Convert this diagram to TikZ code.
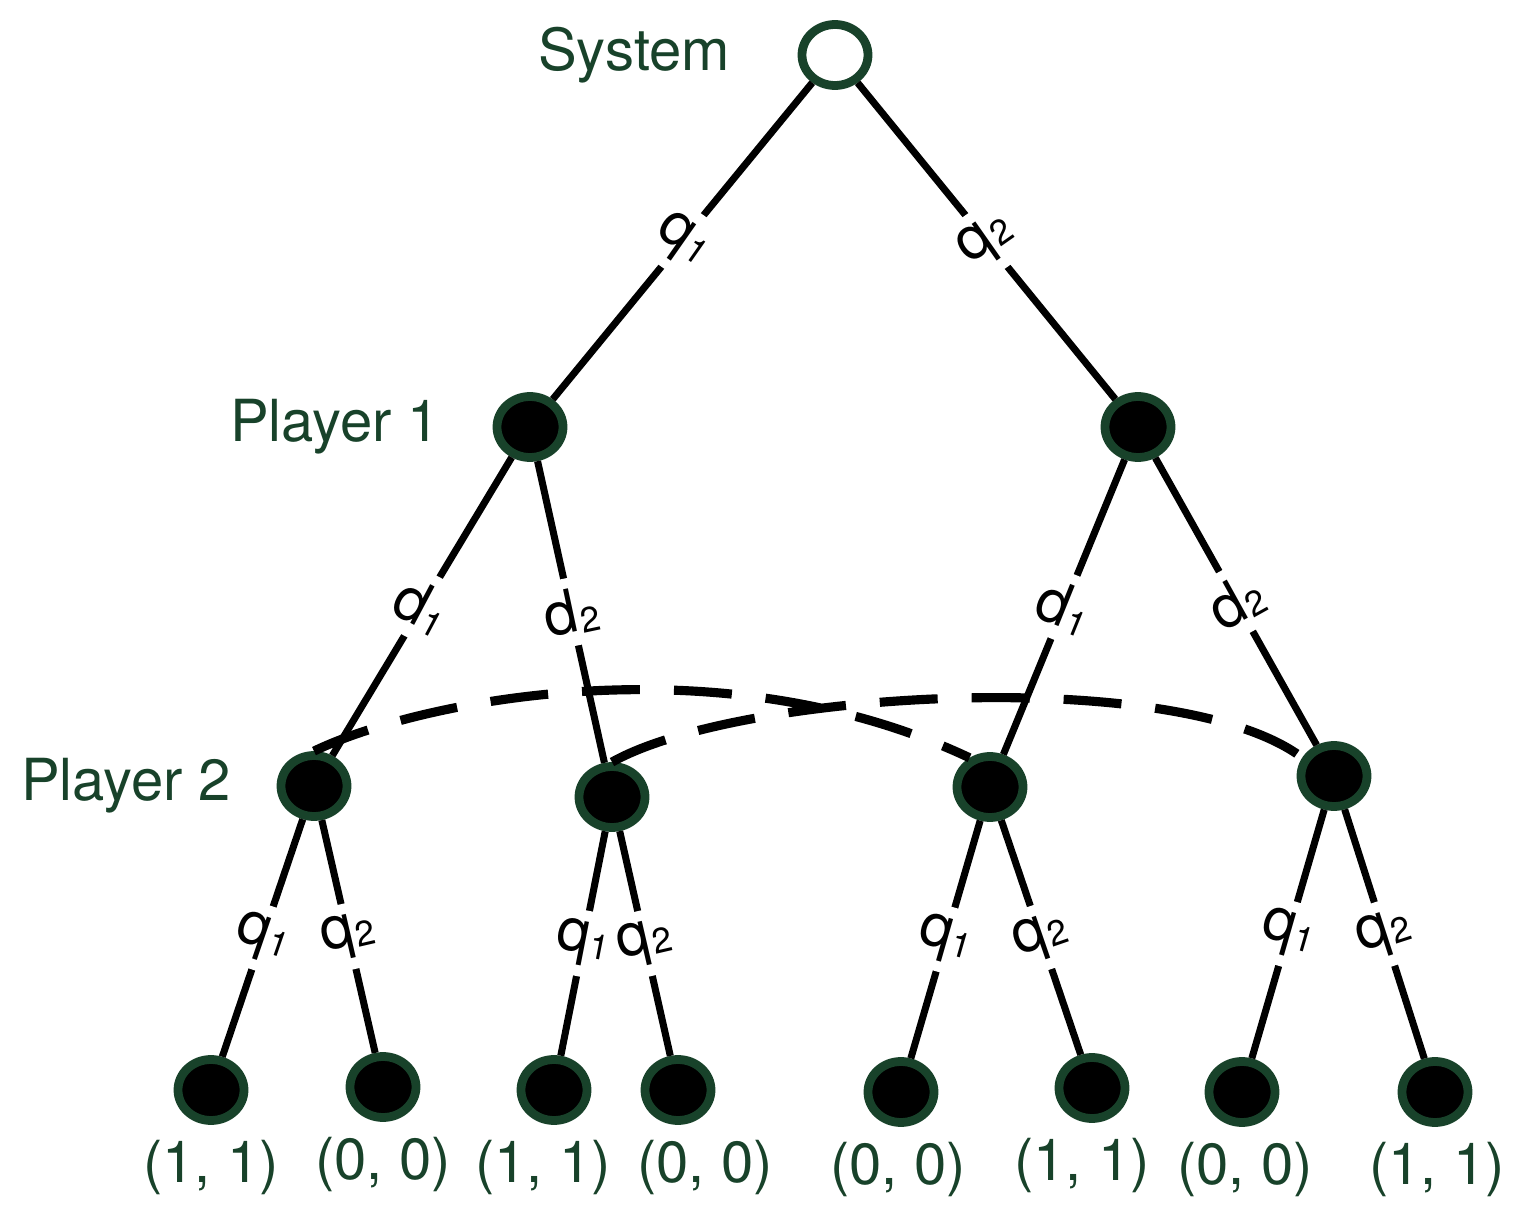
\documentclass[tikz,border=0pt]{standalone}
\usepackage{fontspec}
\setmainfont{TeX Gyre Heros}
\usetikzlibrary{positioning, shapes}
\definecolor{treegreen}{RGB}{24,66,42}
\newcommand{\ix}[1]{\kern0.3pt\raisebox{-1pt}{\fontsize{10}{10}\selectfont #1}}
\tikzset{state node/.style={ellipse,draw=treegreen,line width=2.5pt,fill=black,minimum width=0.66cm,minimum height=0.61cm,inner sep=0pt},
         role/.style={text=treegreen,inner sep=2pt,font=\fontsize{16.5}{19}\selectfont},
         move/.style={fill=white,inner sep=3pt,font=\fontsize{17}{20}\selectfont},}

\begin{document}
\begin{tikzpicture}
       \useasboundingbox (0,0) rectangle (15.26,-12.27);
       \node[state node, fill=white] (sys) at (8.35,-0.55) {};
       \node[state node] (p1a) at (5.30,-4.27) {};
       \node[state node] (p1b) at (11.38,-4.27) {};

       \node[state node] (p2a) at (3.14,-7.86) {};
       \node[state node] (p2b) at (6.12,-7.97) {};
       \node[state node] (p2c) at (9.90,-7.87) {};
       \node[state node] (p2d) at (13.34,-7.76) {};

       \node[state node] (t1) at (2.11,-10.90) {};
       \node[state node] (t2) at (3.83,-10.87) {};
       \node[state node] (t3) at (5.54,-10.90) {};
       \node[state node] (t4) at (6.78,-10.90) {};
       \node[state node] (t5) at (9.01,-10.92) {};
       \node[state node] (t6) at (10.92,-10.88) {};
       \node[state node] (t7) at (12.42,-10.92) {};
       \node[state node] (t8) at (14.35,-10.92) {};

       \node[role] (r0) [left = 0.60cm of sys]{System};
       \node[role] (r1) [left = 0.45cm of p1a]{Player 1};
       \node[role] (r2) [left = 0.38cm of p2a]{Player 2};

       \node[role] (u1) [below = 0.08cm of t1]{(1, 1)};
       \node[role] (u2) [below = 0.08cm of t2]{(0, 0)};
       \node[role] (u3) [below = 0.08cm of t3, xshift=-0.11cm]{(1, 1)};
       \node[role] (u4) [below = 0.08cm of t4, xshift=0.27cm]{(0, 0)};
       \node[role] (u5) [below = 0.08cm of t5, xshift=-0.03cm]{(0, 0)};
       \node[role] (u6) [below = 0.08cm of t6, xshift=-0.10cm]{(1, 1)};
       \node[role] (u7) [below = 0.08cm of t7, xshift=0.03cm]{(0, 0)};
       \node[role] (u8) [below = 0.08cm of t8, xshift=0.02cm]{(1, 1)};

       \path[draw,line width=2pt]
       (sys) edge node [move, rotate=-35]{q\ix{1}} (p1a)
       (sys) edge node [move, rotate=35]{q\ix{2}} (p1b)
       (p1a) edge node [move, rotate=-28]{d\ix{1}} (p2a)
       (p1a) edge node [move, rotate=12]{d\ix{2}} (p2b)
       (p1b) edge node [move, rotate=-22]{d\ix{1}} (p2c)
       (p1b) edge node [move, rotate=29]{d\ix{2}} (p2d)
       (p2a) edge node [move, rotate=-19]{q\ix{1}} (t1)
       (p2a) edge node [move, rotate=13]{q\ix{2}} (t2)
       (p2b) edge node [move, rotate=-11]{q\ix{1}} (t3)
       (p2b) edge node [move, rotate=13]{q\ix{2}} (t4)
       (p2c) edge node [move, rotate=-16]{q\ix{1}} (t5)
       (p2c) edge node [move, rotate=19]{q\ix{2}} (t6)
       (p2d) edge node [move, rotate=-16]{q\ix{1}} (t7)
       (p2d) edge node [move, rotate=18]{q\ix{2}} (t8);

       \path[draw,line width=2.6pt,dash pattern=on 0.58cm off 0.34cm]
       (p2a.north) .. controls (4.20,-7.00) and (7.20,-6.40) .. (p2c.125)
       (p2b.north) .. controls (7.40,-6.90) and (11.80,-6.65) .. (p2d.150);
    \end{tikzpicture}
\end{document}
